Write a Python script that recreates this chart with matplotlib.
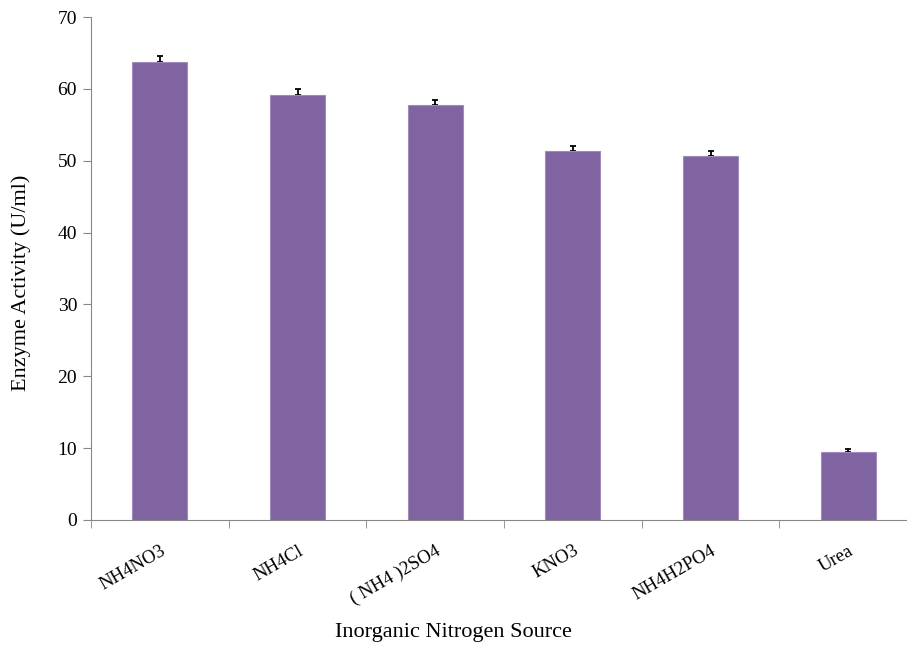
import numpy as np
import matplotlib.pyplot as plt
from matplotlib.ticker import FixedLocator, NullFormatter

plt.rcParams['font.family'] = ['Liberation Serif', 'DejaVu Serif']

sources = ["NH4NO3", "NH4Cl", "( NH4 )2SO4", "KNO3", "NH4H2PO4", "Urea"]
activity = [63.7, 59.1, 57.7, 51.4, 50.7, 9.5]
errors = [0.9, 0.9, 0.8, 0.6, 0.6, 0.4]

fig = plt.figure(figsize=(9.07, 6.47), dpi=100)
ax = fig.add_axes([91 / 907, 127 / 647, 826 / 907, 503 / 647])

x = np.arange(len(sources))
ax.bar(x, activity, width=0.4, color='#8064A2', edgecolor='#9F8BBA', linewidth=0.8, zorder=3)
# plus-only error bars, drawn under the bars so the lower cap is hidden
ax.errorbar(x, activity, yerr=[np.zeros(len(errors)), errors], fmt='none',
            ecolor='black', elinewidth=1.3, capsize=2.5, capthick=1.3, zorder=2)

ax.set_xlim(-0.5, len(sources) - 0.5)
ax.set_ylim(0, 70)
ax.set_yticks(range(0, 71, 10))

# category labels at centres, tick marks on boundaries
ax.set_xticks(x)
ax.set_xticklabels(sources, rotation=30, ha='right', rotation_mode='anchor', fontsize=13.5)
ax.tick_params(axis='x', which='major', length=0, pad=16)
ax.xaxis.set_minor_locator(FixedLocator(np.arange(-0.5, len(sources), 1.0)))
ax.xaxis.set_minor_formatter(NullFormatter())
ax.tick_params(axis='x', which='minor', length=6, color='#888888', direction='out')
ax.tick_params(axis='y', length=6, color='#888888', labelsize=14, pad=4)

for side in ['top', 'right']:
    ax.spines[side].set_visible(False)
ax.spines['left'].set_color('#888888')
ax.spines['bottom'].set_color('#888888')

# axis titles placed like the original (centred on the figure, not the axes)
fig.text(453 / 907, 1 - 632 / 647, 'Inorganic Nitrogen Source', fontsize=16,
         ha='center', va='center')
fig.text(21 / 907, 1 - 283 / 647, 'Enzyme Activity (U/ml)', fontsize=16,
         ha='center', va='center', rotation=90)

plt.savefig('out.png', dpi=100)
plt.close()
